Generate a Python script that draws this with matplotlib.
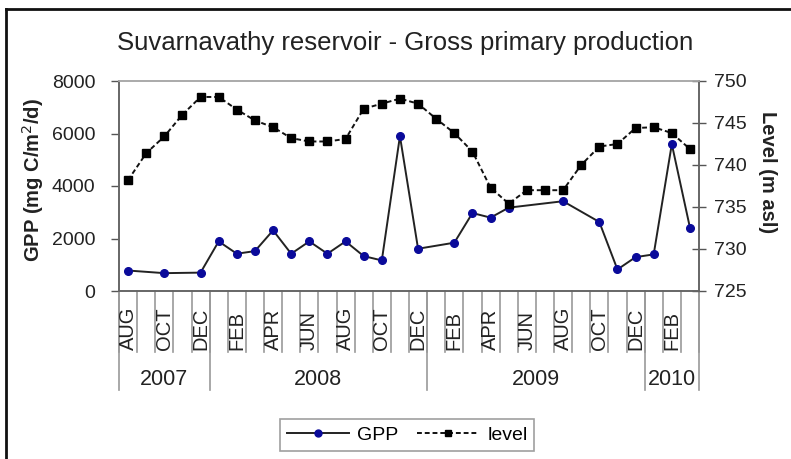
import numpy as np
import matplotlib
matplotlib.use("Agg")
import matplotlib.pyplot as plt
from matplotlib.lines import Line2D
import matplotlib.transforms as mtransforms

plt.rcParams['font.family'] = ['Liberation Sans', 'DejaVu Sans']

# ---- data ----
month_labels = ["AUG", "", "OCT", "", "DEC", "", "FEB", "", "APR", "", "JUN", "",
                "AUG", "", "OCT", "", "DEC", "", "FEB", "", "APR", "", "JUN", "",
                "AUG", "", "OCT", "", "DEC", "", "FEB", ""]
years = ["2007", "2008", "2009", "2010"]
year_lengths = [5, 12, 12, 3]

gpp = [780, np.nan, 680, np.nan, 700, 1890, 1420, 1520, 2310, 1420, 1890, 1420,
       1890, 1330, 1165, 5900, 1610, np.nan, 1840, 2970, 2795, 3175, np.nan, np.nan,
       3420, np.nan, 2630, 820, 1290, 1395, 5595, 2415]
level = [738.2, 741.4, 743.4, 746.0, 748.1, 748.1, 746.6, 745.3, 744.5, 743.2, 742.8, 742.8,
         743.1, 746.7, 747.3, 747.9, 747.3, 745.5, 743.8, 741.6, 737.3, 735.4, 737.0, 737.0,
         737.0, 740.0, 742.2, 742.5, 744.4, 744.5, 743.8, 741.9]

W, H = 791, 459
fig = plt.figure(figsize=(W / 100, H / 100), dpi=100)

def fx(px):
    return px / W

def fy(py):
    return 1 - py / H

left, right, top, bottom = 119, 699, 81, 291
ax = fig.add_axes([fx(left), fy(bottom), fx(right - left), (bottom - top) / H])
ax2 = ax.twinx()

x = np.arange(len(level))
gpp_arr = np.array(gpp, dtype=float)
mask = ~np.isnan(gpp_arr)

ax.plot(x[mask], gpp_arr[mask], color='#222222', lw=1.4, marker='o', markersize=5.5,
        markerfacecolor='#0a0a9a', markeredgecolor='#0a0a9a', zorder=3, label='GPP')
ax2.plot(x, level, color='#111111', lw=1.4, ls=(0, (2.5, 1.5)), marker='s', markersize=6,
         markerfacecolor='#000000', markeredgecolor='#000000', zorder=3, label='level')

ax.set_xlim(-0.5, len(level) - 0.5)
ax.set_ylim(0, 8000)
ax.set_yticks([0, 2000, 4000, 6000, 8000])
ax2.set_ylim(725, 750)
ax2.set_yticks([725, 730, 735, 740, 745, 750])
ax.set_xticks([])

ax.tick_params(axis='y', direction='out', length=6, width=1, color='#555555',
               labelsize=14, labelcolor='#222222', pad=11)
ax2.tick_params(axis='y', direction='inout', length=10, width=1, color='#555555',
                labelsize=14, labelcolor='#222222', pad=6)

for a in (ax, ax2):
    for s in a.spines.values():
        s.set_color('#666666')
        s.set_linewidth(1.2)
    a.spines['top'].set_color('#aaaaaa')
ax.patch.set_visible(False)

# category axis (multi-level)
trans = mtransforms.blended_transform_factory(ax.transData, ax.transAxes)
h_ax = bottom - top
def ay(py):
    return (bottom - py) / h_ax

for i in range(len(level) + 1):
    ax.plot([i - 0.5, i - 0.5], [0, ay(352)], transform=trans, color='#999999',
            lw=1.2, clip_on=False)
bounds = np.concatenate([[0], np.cumsum(year_lengths)])
for b in bounds:
    ax.plot([b - 0.5, b - 0.5], [0, ay(390)], transform=trans, color='#999999',
            lw=1.2, clip_on=False)
for i, lab in enumerate(month_labels):
    if lab:
        ax.text(i, ay(350), lab, transform=trans, rotation=90, ha='center', va='bottom',
                fontsize=14.5, color='#222222')
for k, yr in enumerate(years):
    c = (bounds[k] + bounds[k + 1]) / 2 - 0.5
    ax.text(c, ay(380), yr, transform=trans, ha='center', va='center', fontsize=15.5,
            color='#222222')

# titles and labels
fig.text(fx(405), fy(43), "Suvarnavathy reservoir - Gross primary production",
         ha='center', va='center', fontsize=18.5, color='#222222')
fig.text(fx(33), fy(180), "GPP (mg C/m$^2$/d)", rotation=90, ha='center', va='center',
         fontsize=14.5, fontweight='bold', color='#222222')
fig.text(fx(768), fy(172), "Level (m asl)", rotation=270, ha='center', va='center',
         fontsize=14.5, fontweight='bold', color='#222222')

# legend
handles = [Line2D([], [], color='#222222', lw=1.4, marker='o', markersize=5,
                  markerfacecolor='#0a0a9a', markeredgecolor='#0a0a9a'),
           Line2D([], [], color='#111111', lw=1.4, ls=(0, (2.5, 1.5)), marker='s',
                  markersize=5, markerfacecolor='#000000', markeredgecolor='#000000')]
leg = fig.legend(handles, ['GPP', 'level'], loc='center', ncol=2,
                 bbox_to_anchor=(fx(407), fy(435)), fontsize=14, frameon=True,
                 fancybox=False, edgecolor='#888888', handlelength=3.2,
                 columnspacing=1.0, handletextpad=0.4, borderpad=0.35)
leg.get_frame().set_linewidth(1.2)

# outer border
fig.add_artist(Line2D([fx(6.5), fx(6.5)], [0, fy(9)], transform=fig.transFigure,
                      color='#111111', lw=2))
fig.add_artist(Line2D([fx(6), 1], [fy(9), fy(9)], transform=fig.transFigure,
                      color='#111111', lw=2))

fig.savefig("out.png", dpi=100)
